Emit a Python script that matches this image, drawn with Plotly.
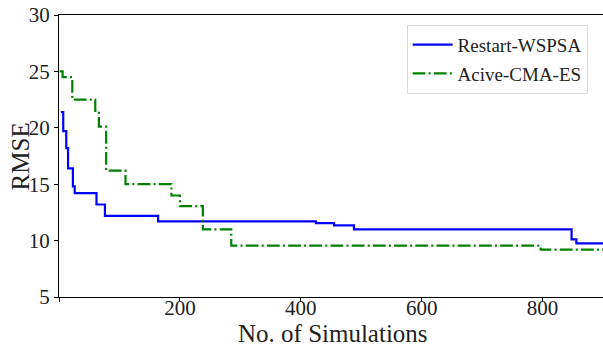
import plotly.graph_objects as go

# Restart-WSPSA (step curve)
wspsa_x = [3, 7, 12, 15, 23, 26, 62, 76, 164, 425, 455, 488, 848, 856, 900]
wspsa_y = [21.4, 19.7, 18.2, 16.4, 14.8, 14.2, 13.2, 12.2, 11.7, 11.55, 11.35, 11.0, 10.1, 9.75, 9.75]

# Acive-CMA-ES (step curve)
cma_x = [1, 6, 22, 60, 66, 78, 110, 186, 200, 238, 285, 797, 900]
cma_y = [25.0, 24.5, 22.5, 21.5, 20.1, 16.2, 15.0, 14.0, 13.05, 11.0, 9.55, 9.2, 9.2]

x_ticks = [0, 200, 400, 600, 800]
x_ticktext = ["", "200", "400", "600", "800"]
y_ticks = [5, 10, 15, 20, 25, 30]

FONT = "Liberation Serif"
TXT = "#222222"

fig = go.Figure()
fig.add_trace(go.Scatter(
    x=wspsa_x, y=wspsa_y, mode="lines", line_shape="hv",
    name="Restart-WSPSA", legendgroup="a",
    line=dict(color="#0000ff", width=2.2),
))
fig.add_trace(go.Scatter(
    x=cma_x, y=cma_y, mode="lines", line_shape="hv",
    name="Acive-CMA-ES", legendgroup="b",
    line=dict(color="#008000", width=2.2, dash="12.8px,3.2px,2px,3.2px"),
))

fig.update_layout(
    width=603, height=351,
    margin=dict(l=59, r=0, t=15, b=54),
    paper_bgcolor="white", plot_bgcolor="white",
    font=dict(family=FONT, color=TXT, size=20),
    showlegend=True,
    legend=dict(
        x=0.639, y=0.965, xanchor="left", yanchor="top",
        bgcolor="rgba(255,255,255,0.8)", bordercolor="#d9d9d9", borderwidth=1,
        font=dict(family=FONT, size=19, color=TXT),
        itemwidth=40, traceorder="grouped", tracegroupgap=1,
    ),
    xaxis=dict(
        range=[0, 900], tickvals=x_ticks, ticktext=x_ticktext,
        showgrid=False, zeroline=False, automargin=False,
        showline=True, linecolor="black", linewidth=1.2, mirror=True,
        ticks="outside", ticklen=4, tickcolor="black",
        ticklabelstandoff=-12,
        tickfont=dict(family=FONT, size=21, color=TXT),
    ),
    yaxis=dict(
        range=[5, 30], tickvals=y_ticks,
        showgrid=False, zeroline=False, automargin=False,
        showline=True, linecolor="black", linewidth=1.2,
        ticks="outside", ticklen=4, tickcolor="black",
        tickfont=dict(family=FONT, size=21, color=TXT),
    ),
    annotations=[
        dict(text="No. of Simulations", xref="paper", yref="paper",
             x=0.504, y=-0.128, xanchor="center", yanchor="middle",
             showarrow=False, font=dict(family=FONT, size=25, color=TXT)),
        dict(text="RMSE", xref="paper", yref="paper",
             x=-0.071, y=0.5, xanchor="center", yanchor="middle", textangle=-90,
             showarrow=False, font=dict(family=FONT, size=25, color=TXT)),
    ],
)

fig.write_html("out.html",
               config={"displayModeBar": False},
               post_script="document.body.style.margin='0';document.body.style.overflow='hidden';")
